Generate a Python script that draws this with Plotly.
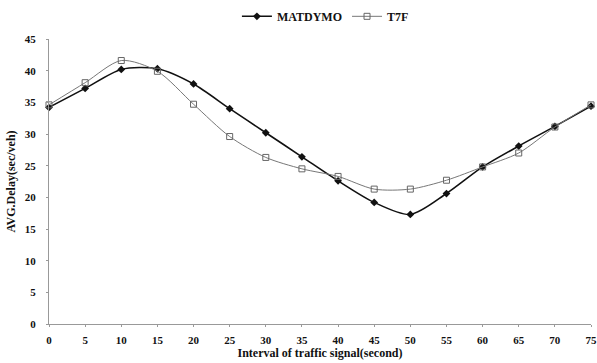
import plotly.graph_objects as go

# Signal interval (seconds)
interval = [0, 5, 10, 15, 20, 25, 30, 35, 40, 45, 50, 55, 60, 65, 70, 75]

# Average delay (sec/veh) for each method
matdymo = [34.2, 37.2, 40.2, 40.3, 37.9, 34.0, 30.2, 26.4, 22.6, 19.2, 17.3, 20.6, 24.8, 28.1, 31.2, 34.4]
t7f = [34.6, 38.1, 41.6, 39.9, 34.7, 29.6, 26.3, 24.5, 23.3, 21.3, 21.3, 22.7, 24.8, 27.0, 31.1, 34.6]

y_ticks = list(range(0, 50, 5))
x_ticks = list(range(0, 80, 5))

font_family = "Liberation Serif"

fig = go.Figure()
fig.add_trace(go.Scatter(
    x=interval, y=matdymo, name="<b>MATDYMO</b>",
    mode="lines+markers",
    line=dict(color="#111111", width=1.6, shape="spline", smoothing=0.8),
    marker=dict(symbol="diamond", size=6, color="#111111"),
    cliponaxis=False,
))
fig.add_trace(go.Scatter(
    x=interval, y=t7f, name="<b>T7F</b>",
    mode="lines+markers",
    line=dict(color="#777777", width=1, shape="spline", smoothing=0.8),
    marker=dict(symbol="square-open", size=6, color="#666666", line=dict(width=1)),
    cliponaxis=False,
))

fig.update_layout(
    width=597, height=363,
    margin=dict(l=49, r=6, t=39, b=39, autoexpand=False),
    paper_bgcolor="white", plot_bgcolor="white",
    font=dict(family=font_family, color="#111111", size=11),
    showlegend=True,
    legend=dict(
        orientation="h", x=0.51, xanchor="center", y=0.995, yanchor="top",
        yref="container", font=dict(size=12, family=font_family),
        itemwidth=30, tracegroupgap=0,
    ),
    xaxis=dict(
        range=[0, 75], tickvals=x_ticks,
        ticktext=[f"<b>{v}</b>" for v in x_ticks],
        showgrid=False, zeroline=False, automargin=False,
        showline=True, linecolor="#999999", linewidth=1,
        ticks="outside", ticklen=2, tickcolor="#999999",
        tickfont=dict(size=11), ticklabelstandoff=4,
        title=dict(text="<b>Interval of traffic signal(second)</b>",
                   font=dict(size=12), standoff=2),
    ),
    yaxis=dict(
        range=[0, 45], tickvals=y_ticks,
        ticktext=[f"<b>{v}</b>" for v in y_ticks],
        showgrid=False, zeroline=False, automargin=False,
        showline=True, linecolor="#999999", linewidth=1,
        ticks="outside", ticklen=2, tickcolor="#999999",
        tickfont=dict(size=11), ticklabelstandoff=8,
        title=dict(text="<b>AVG.Delay(sec/veh)</b>",
                   font=dict(size=12), standoff=6),
    ),
)

fig.write_html("out.html")
